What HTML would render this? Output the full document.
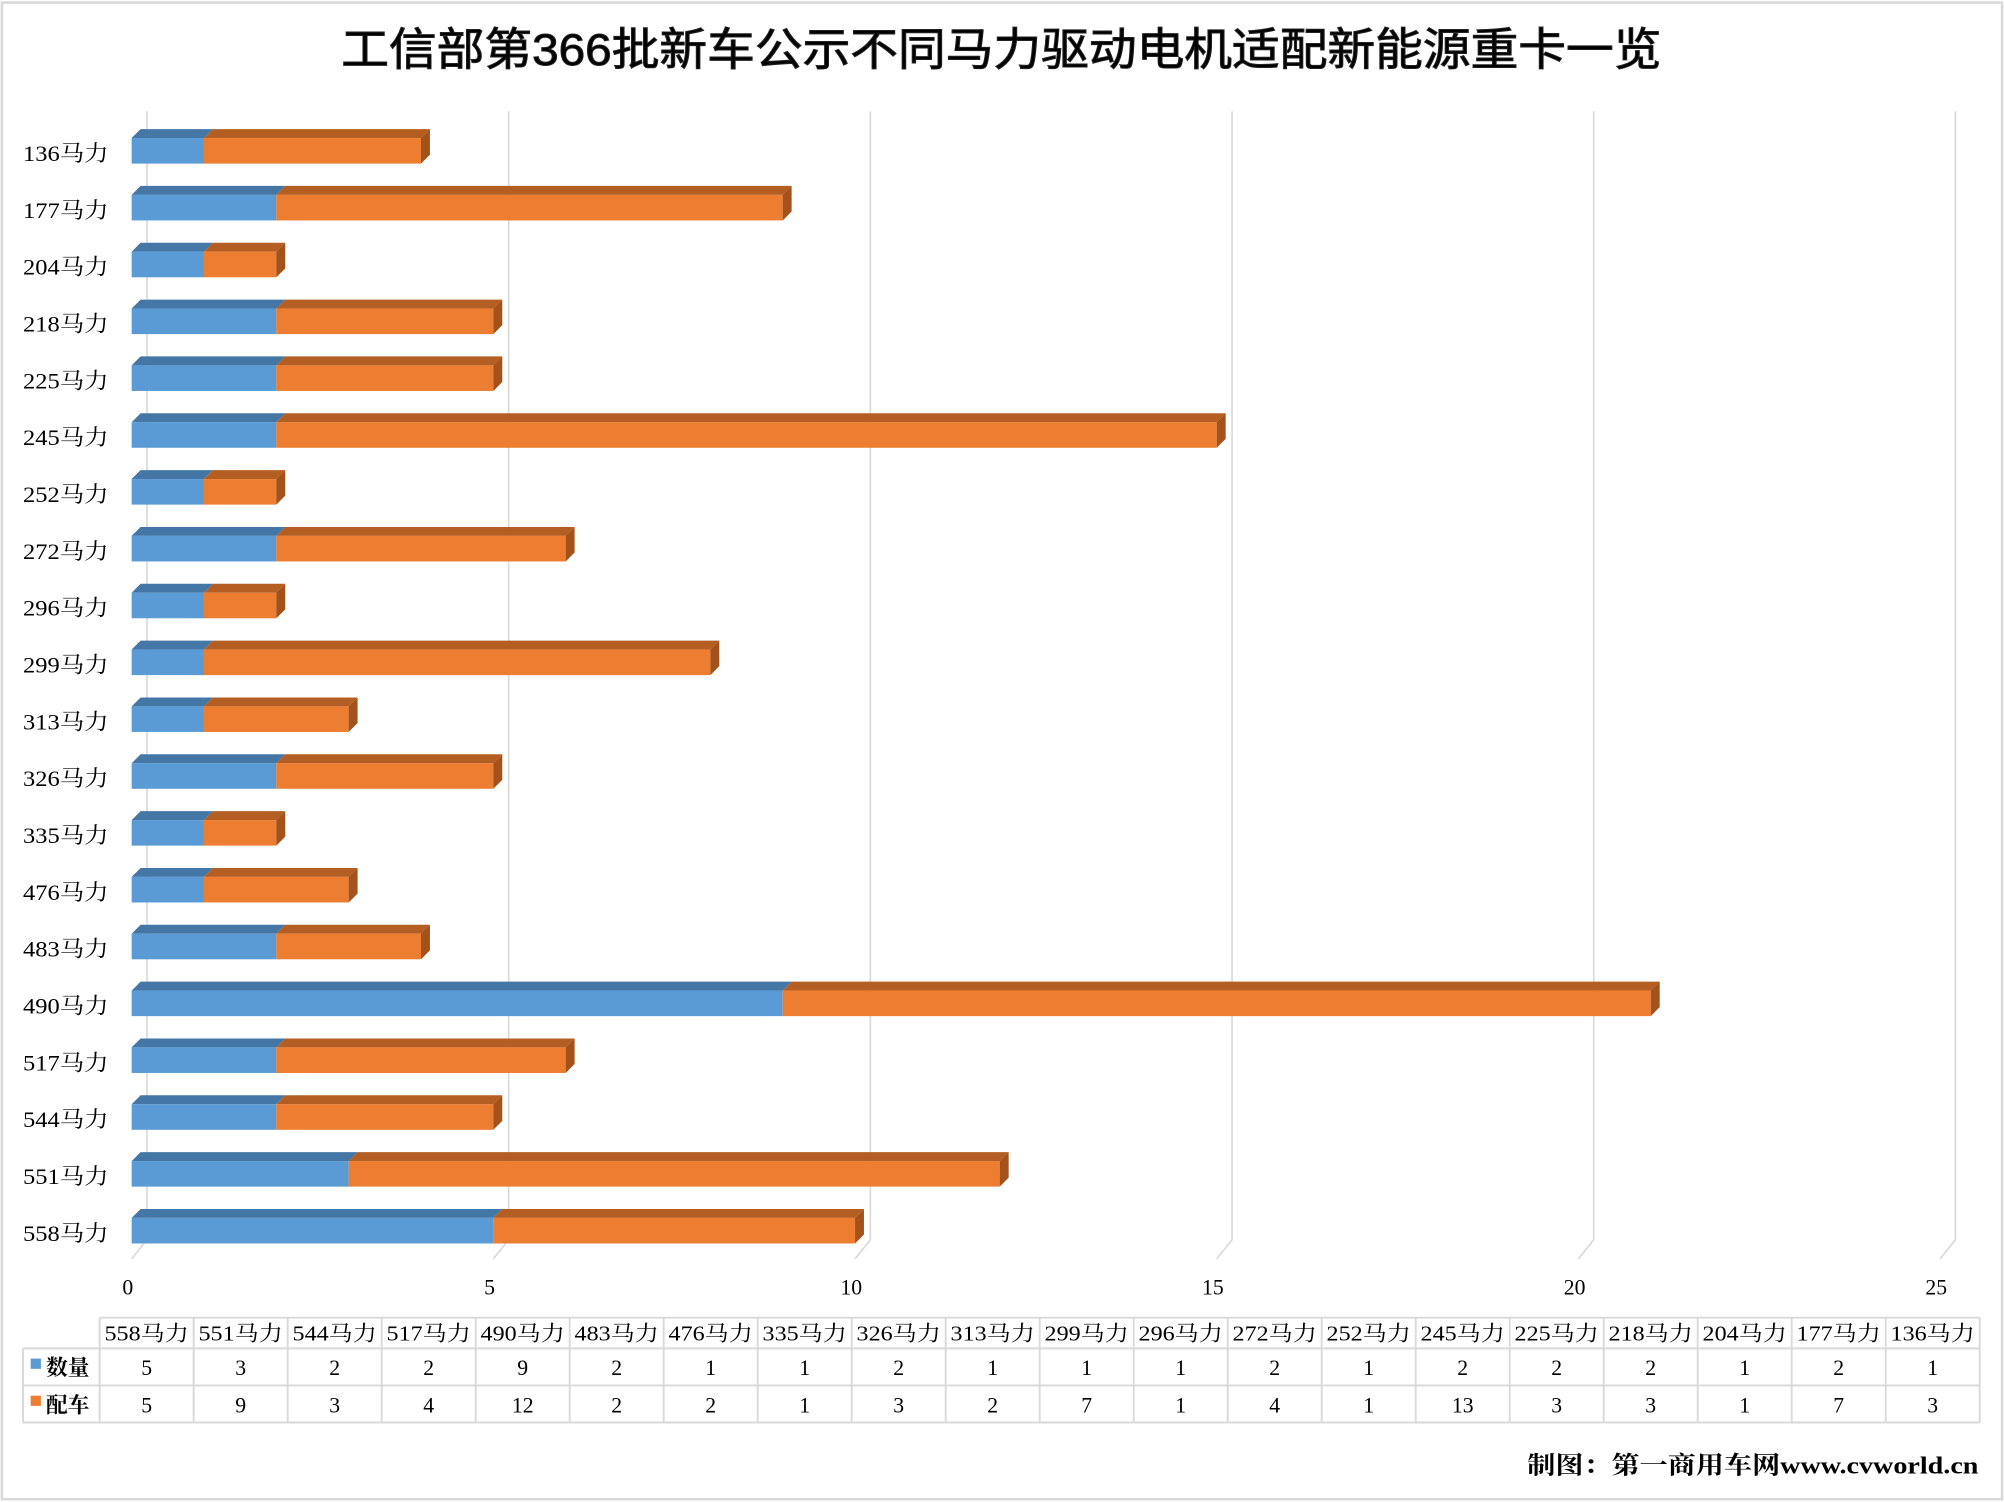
<!DOCTYPE html>
<html><head><meta charset="utf-8"><style>
html,body{margin:0;padding:0;background:#fff}
svg{display:block}
text{font-family:"Liberation Serif","Noto Serif CJK SC",serif;fill:#000}
</style></head><body>
<svg id="chart" width="2004" height="1502" viewBox="0 0 1568 1175.2" xmlns="http://www.w3.org/2000/svg">
<rect x="0" y="0" width="1568" height="1175.2" fill="#fff"/>
<rect x="1.5" y="2" width="1565" height="1171" fill="none" stroke="#d9d9d9" stroke-width="2"/>
<text x="267" y="51" textLength="1033" lengthAdjust="spacingAndGlyphs" font-size="35" font-weight="normal" stroke="#222" stroke-width="0.8" style="font-family:'Liberation Sans','Noto Sans CJK SC',sans-serif">工信部第366批新车公示不同马力驱动电机适配新能源重卡一览</text>
<g id="grid"></g><g id="bars"></g><g id="table"></g>
<text x="1195" y="1153" textLength="353" lengthAdjust="spacingAndGlyphs" font-size="19" font-weight="bold">制图：第一商用车网www.cvworld.cn</text>
</svg>
<script>
const categories = ["558马力","551马力","544马力","517马力","490马力","483马力","476马力","335马力","326马力","313马力","299马力","296马力","272马力","252马力","245马力","225马力","218马力","204马力","177马力","136马力"];
const seriesCount = [5,3,2,2,9,2,1,1,2,1,1,1,2,1,2,2,2,1,2,1];
const seriesCars = [5,9,3,4,12,2,2,1,3,2,7,1,4,1,13,3,3,1,7,3];
const xTicks = [0,5,10,15,20,25];
const seriesNames = ["数量","配车"];

const NS="http://www.w3.org/2000/svg";
function mk(tag,attrs,parent){const e=document.createElementNS(NS,tag);for(const k in attrs)e.setAttribute(k,attrs[k]);parent.appendChild(e);return e;}
const X0=103, UNIT=56.6, D=7;
const xScale=v=>X0+v*UNIT;
const rowY=i=>108+i*44.47;
const grid=document.getElementById('grid'), bars=document.getElementById('bars'), table=document.getElementById('table');

xTicks.forEach(t=>{
  const gx=xScale(t)+12;
  const l=mk('polyline',{points:`${gx},87 ${gx},970 ${gx-12},985`,fill:'none',stroke:'#d9d9d9','stroke-width':1.3},grid);
  
  
  const tx=mk('text',{x:xScale(t)-3,y:1013,'text-anchor':'middle','font-size':17},grid);
  tx.textContent=t;
  
  
});

const n=categories.length;
for(let j=0;j<n;j++){
  const i=n-1-j;
  const y=rowY(i), h=20;
  const a=seriesCount[j], b=seriesCars[j];
  const xa0=xScale(0), xa1=xScale(a), xb1=xScale(a+b);
  const lab=mk('text',{x:18,y:y+18,'font-size':17.5,textLength:67,lengthAdjust:'spacingAndGlyphs'},bars);
  lab.textContent=categories[j];
  
  
  const segs=[[xa0,xa1,'#5b9bd5','#4477a6','count'],[xa1,xb1,'#ed7d31','#b55e23','cars']];
  segs.forEach(s=>{
    const top=mk('polygon',{points:`${s[0]},${y} ${s[0]+D},${y-D} ${s[1]+D},${y-D} ${s[1]},${y}`,fill:s[3]},bars);
    
    
    const r=mk('rect',{x:s[0],y:y,width:Math.max(0,s[1]-s[0]),height:h,fill:s[2]},bars);
    
    
  });
  const side=mk('polygon',{points:`${xb1},${y} ${xb1+D},${y-D} ${xb1+D},${y+h-D} ${xb1},${y+h}`,fill:'#a4521b'},bars);
  
  
}

const TX=78, TW=(1549-78)/n, rows=[1031,1055,1084,1113];
const bc='#d9d9d9';
mk('line',{x1:TX,y1:rows[0],x2:1549,y2:rows[0],stroke:bc,'stroke-width':1.5},table);
mk('line',{x1:18,y1:rows[1],x2:1549,y2:rows[1],stroke:bc,'stroke-width':1.5},table);
mk('line',{x1:18,y1:rows[2],x2:1549,y2:rows[2],stroke:bc,'stroke-width':1.5},table);
mk('line',{x1:18,y1:rows[3],x2:1549,y2:rows[3],stroke:bc,'stroke-width':1.5},table);
mk('line',{x1:18,y1:rows[1],x2:18,y2:rows[3],stroke:bc,'stroke-width':1.5},table);
for(let c=0;c<=n;c++){
  mk('line',{x1:TX+c*TW,y1:rows[0],x2:TX+c*TW,y2:rows[3],stroke:bc,'stroke-width':1.5},table);
}
for(let c=0;c<n;c++){
  const cx=TX+c*TW+TW/2;
  const h=mk('text',{x:cx,y:1049,'text-anchor':'middle','font-size':16.5,textLength:66,lengthAdjust:'spacingAndGlyphs'},table);
  h.textContent=categories[c];
  
  
  const v1=mk('text',{x:cx,y:1076,'text-anchor':'middle','font-size':17},table);
  v1.textContent=seriesCount[c];
  
  
  const v2=mk('text',{x:cx,y:1105,'text-anchor':'middle','font-size':17},table);
  v2.textContent=seriesCars[c];
  
  
}
[['#5b9bd5',1076,'legend-count'],['#ed7d31',1105,'legend-cars']].forEach((l,k)=>{
  const m=mk('rect',{x:24,y:l[1]-13,width:8,height:8,fill:l[0]},table);
  
  
  const t=mk('text',{x:36,y:l[1],'font-size':17,'font-weight':'bold'},table);
  t.textContent=seriesNames[k];
  
  
});
</script>
</body></html>
